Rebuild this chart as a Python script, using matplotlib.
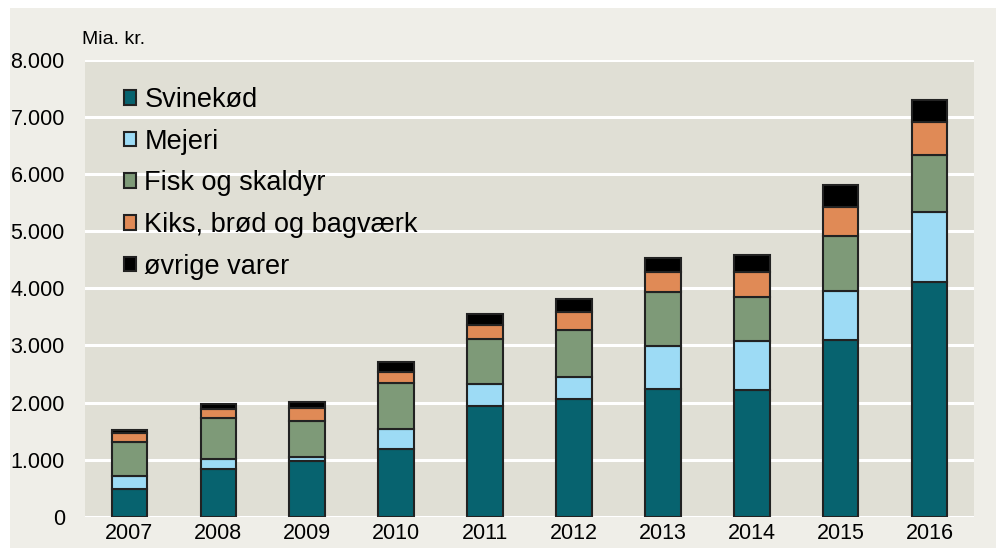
import numpy as np
import matplotlib
matplotlib.use("Agg")
import matplotlib.pyplot as plt
from matplotlib.patches import Rectangle
from matplotlib.ticker import FuncFormatter

plt.rcParams['font.family'] = ['Liberation Sans', 'DejaVu Sans']

# Eksport, mia. kr.
years = ['2007', '2008', '2009', '2010', '2011', '2012', '2013', '2014', '2015', '2016']
svinekod = [485, 846, 975, 1197, 1944, 2061, 2230, 2224, 3100, 4110]
mejeri = [233, 164, 70, 339, 373, 379, 752, 858, 853, 1226]
fisk = [590, 718, 641, 806, 795, 830, 953, 766, 968, 986]
kiks = [157, 158, 228, 192, 245, 320, 343, 437, 496, 584]
ovrige = [55, 87, 105, 175, 193, 216, 246, 291, 392, 385]

series = [
    ('Svinekød', svinekod, '#07636F'),
    ('Mejeri', mejeri, '#9DDBF5'),
    ('Fisk og skaldyr', fisk, '#7E9A78'),
    ('Kiks, brød og bagværk', kiks, '#E08A56'),
    ('øvrige varer', ovrige, '#000000'),
]

fig = plt.figure(figsize=(9.96, 5.48), dpi=100)
fig.patch.set_facecolor('white')
fig.patches.append(Rectangle((10 / 996, 0), 1, 540 / 548, transform=fig.transFigure,
                             facecolor='#EFEEE8', edgecolor='none', zorder=-10))

ax = fig.add_axes([0.0853, 0.0566, 0.8926, 0.8348])
ax.set_zorder(1)
ax.set_facecolor('#E0DFD5')

x = np.arange(len(years))
bottom = np.zeros(len(years))
for name, vals, col in series:
    ax.bar(x, vals, width=0.4, bottom=bottom, color=col, edgecolor='#222222',
           linewidth=1.5, label=name, zorder=3)
    bottom += np.array(vals)

ax.set_xlim(-0.5, len(years) - 0.5)
ax.set_ylim(0, 8000)
ax.set_yticks(np.arange(0, 8001, 1000))
ax.yaxis.set_major_formatter(FuncFormatter(lambda v, p: f'{int(v):,}'.replace(',', '.')))
ax.set_xticks(x)
ax.set_xticklabels(years)
ax.tick_params(axis='y', length=0, pad=14.5, labelsize=15.5)
ax.tick_params(axis='x', length=0, pad=4, labelsize=15.5)
ax.grid(axis='y', color='white', linewidth=2.2, zorder=1)
ax.set_axisbelow(True)
for s in ax.spines.values():
    s.set_visible(False)

fig.text(82 / 996, 1 - 40 / 548, 'Mia. kr.', fontsize=14, va='center', ha='left')

leg = ax.legend(loc='upper left', bbox_to_anchor=(0.044, 0.94), frameon=False,
                fontsize=19.5, handlelength=0.45, handleheight=0.45,
                handletextpad=0.3, labelspacing=0.58, borderpad=0, borderaxespad=0)

plt.savefig('out.png', dpi=100)
